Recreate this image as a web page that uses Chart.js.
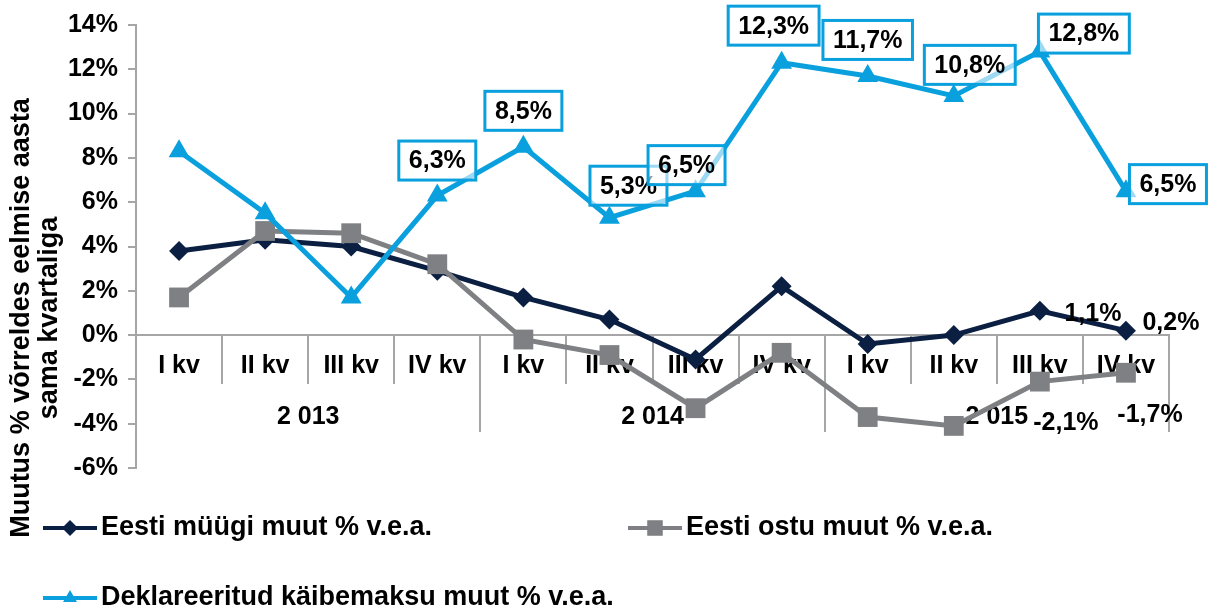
<!DOCTYPE html>
<html>
<head>
<meta charset="utf-8">
<script src="https://cdn.jsdelivr.net/npm/chart.js"></script>
<style>
  html, body { margin: 0; padding: 0; background: #fff; }
  #chart { display: block; }
</style>
</head>
<body>
<canvas id="chart" width="1217" height="612" style="width:1217px;height:612px"></canvas>
<script>
// data
const quarters = ['I kv', 'II kv', 'III kv', 'IV kv', 'I kv', 'II kv', 'III kv', 'IV kv', 'I kv', 'II kv', 'III kv', 'IV kv'];
const years = ['2 013', '2 014', '2 015'];
const salesChange = [3.8, 4.3, 4.0, 2.9, 1.7, 0.7, -1.1, 2.2, -0.4, 0.0, 1.1, 0.2];
const purchaseChange = [1.7, 4.7, 4.6, 3.2, -0.2, -0.9, -3.3, -0.8, -3.7, -4.1, -2.1, -1.7];
const vatChange = [8.3, 5.5, 1.7, 6.3, 8.5, 5.3, 6.5, 12.3, 11.7, 10.8, 12.8, 6.5];
const seriesNames = ['Eesti müügi muut % v.e.a.', 'Eesti ostu muut % v.e.a.', 'Deklareeritud käibemaksu muut % v.e.a.'];
const yTitle = ['Muutus % võrreldes eelmise aasta', 'sama kvartaliga'];

const NAVY = '#0B1F42';
const GRAY = '#7F8083';
const BLUE = '#0AA0DE';
const AXIS = '#A6A6A6';
const FONT = "'Liberation Sans', Arial, sans-serif";

// which points carry a value label, and where the label sits relative to the point
const labelPlaces = [
  { dataset: 2, boxed: true, spots: { 3: [0, -35], 4: [0, -36], 5: [19, -32], 6: [-9, -26], 7: [-8, -37], 8: [0, -36], 9: [16, -31], 10: [44, -18], 11: [42, -7] } },
  { dataset: 0, boxed: false, spots: { 10: [53, 2], 11: [45, -9] } },
  { dataset: 1, boxed: false, spots: { 10: [26, 40], 11: [24, 41] } }
];

function fmt(v) {
  return v.toFixed(1).replace('.', ',') + '%';
}

const decor = {
  id: 'decor',
  beforeDatasetsDraw(chart) {
    const ctx = chart.ctx;
    const x = chart.scales.x;
    const y = chart.scales.y;
    const zero = y.getPixelForValue(0);
    const step = x.getPixelForValue(1) - x.getPixelForValue(0);
    ctx.save();
    ctx.strokeStyle = AXIS;
    ctx.lineWidth = 2;
    for (let i = 1; i <= quarters.length; i++) {
      const px = Math.round(x.getPixelForValue(i) - step / 2);
      const tall = i % 4 === 0;
      ctx.beginPath();
      ctx.moveTo(px, zero);
      ctx.lineTo(px, zero + (tall ? 97 : 49));
      ctx.stroke();
    }
    // year group labels
    ctx.fillStyle = '#000';
    ctx.font = 'bold 25px ' + FONT;
    ctx.textAlign = 'center';
    ctx.textBaseline = 'middle';
    years.forEach((yr, g) => {
      const cx = (x.getPixelForValue(g * 4) + x.getPixelForValue(g * 4 + 3)) / 2;
      ctx.fillText(yr, cx, zero + 82);
    });
    ctx.restore();
  },
  afterDatasetsDraw(chart) {
    const ctx = chart.ctx;
    ctx.save();
    ctx.font = 'bold 25px ' + FONT;
    ctx.textAlign = 'center';
    ctx.textBaseline = 'middle';
    labelPlaces.forEach(lp => {
      const meta = chart.getDatasetMeta(lp.dataset);
      const vals = chart.data.datasets[lp.dataset].data;
      Object.keys(lp.spots).forEach(k => {
        const i = +k;
        const pt = meta.data[i];
        const cx = pt.x + lp.spots[k][0];
        const cy = pt.y + lp.spots[k][1];
        const txt = fmt(vals[i]);
        if (lp.boxed) {
          const w = ctx.measureText(txt).width + 20;
          const h = 39;
          ctx.fillStyle = 'rgba(255,255,255,0.6)';
          ctx.fillRect(cx - w / 2, cy - h / 2, w, h);
          ctx.strokeStyle = BLUE;
          ctx.lineWidth = 3;
          ctx.strokeRect(cx - w / 2, cy - h / 2, w, h);
        }
        ctx.fillStyle = '#000';
        ctx.fillText(txt, cx, cy + 1);
      });
    });
    ctx.restore();
  },
  afterDraw(chart) {
    const ctx = chart.ctx;
    ctx.save();
    // y axis title, two rotated lines
    ctx.fillStyle = '#000';
    ctx.font = 'bold 27px ' + FONT;
    ctx.textAlign = 'center';
    ctx.textBaseline = 'middle';
    [22, 50].forEach((tx, n) => {
      ctx.save();
      ctx.translate(tx, 318);
      ctx.rotate(-Math.PI / 2);
      ctx.fillText(yTitle[n], 0, 0);
      ctx.restore();
    });
    // legend
    const spots = [[43, 528], [628, 528], [43, 598]];
    chart.data.datasets.forEach((ds, n) => {
      const [lx, ly] = spots[n];
      ctx.strokeStyle = ds.borderColor;
      ctx.lineWidth = 4;
      ctx.beginPath();
      ctx.moveTo(lx, ly);
      ctx.lineTo(lx + 54, ly);
      ctx.stroke();
      ctx.fillStyle = ds.pointBackgroundColor;
      Chart.helpers.drawPoint(ctx, { pointStyle: ds.pointStyle, radius: ds.pointStyle === 'rect' ? 11 : 8, rotation: 0, borderWidth: 0 }, lx + 27, ly);
      ctx.fillStyle = '#000';
      ctx.font = 'bold 27px ' + FONT;
      ctx.textAlign = 'left';
      ctx.fillText(ds.label, lx + 58, ly);
    });
    ctx.restore();
  }
};

new Chart(document.getElementById('chart'), {
  type: 'line',
  data: {
    labels: quarters,
    datasets: [
      {
        label: seriesNames[0],
        data: salesChange,
        borderColor: NAVY,
        backgroundColor: NAVY,
        pointBackgroundColor: NAVY,
        pointBorderColor: NAVY,
        borderWidth: 5,
        pointStyle: 'rectRot',
        pointRadius: 10,
        pointBorderWidth: 0,
        order: 2
      },
      {
        label: seriesNames[1],
        data: purchaseChange,
        borderColor: GRAY,
        backgroundColor: GRAY,
        pointBackgroundColor: GRAY,
        pointBorderColor: GRAY,
        borderWidth: 5,
        pointStyle: 'rect',
        pointRadius: 14,
        pointBorderWidth: 0,
        order: 1
      },
      {
        label: seriesNames[2],
        data: vatChange,
        borderColor: BLUE,
        backgroundColor: BLUE,
        pointBackgroundColor: BLUE,
        pointBorderColor: BLUE,
        borderWidth: 5,
        pointStyle: 'triangle',
        pointRadius: 12,
        pointBorderWidth: 0,
        order: 0
      }
    ]
  },
  options: {
    responsive: false,
    devicePixelRatio: 1,
    animation: false,
    layout: { padding: { top: 20, right: 48, bottom: 144, left: 0 } },
    plugins: {
      legend: { display: false },
      tooltip: { enabled: false }
    },
    scales: {
      x: {
        position: { y: 0 },
        offset: true,
        grid: { display: false, drawTicks: false },
        border: { display: true, color: AXIS, width: 2 },
        ticks: {
          color: '#000',
          font: { family: FONT, size: 25, weight: 'bold' },
          padding: 16,
          maxRotation: 0,
          autoSkip: false
        }
      },
      y: {
        min: -6,
        max: 14,
        afterFit(scale) { scale.width = 136; },
        grid: { drawOnChartArea: false, drawTicks: true, tickLength: 8, color: AXIS, lineWidth: 2 },
        border: { display: true, color: AXIS, width: 2 },
        ticks: {
          stepSize: 2,
          color: '#000',
          padding: 10,
          font: { family: FONT, size: 25, weight: 'bold' },
          callback: v => v + '%'
        }
      }
    }
  },
  plugins: [decor]
});
</script>
</body>
</html>
